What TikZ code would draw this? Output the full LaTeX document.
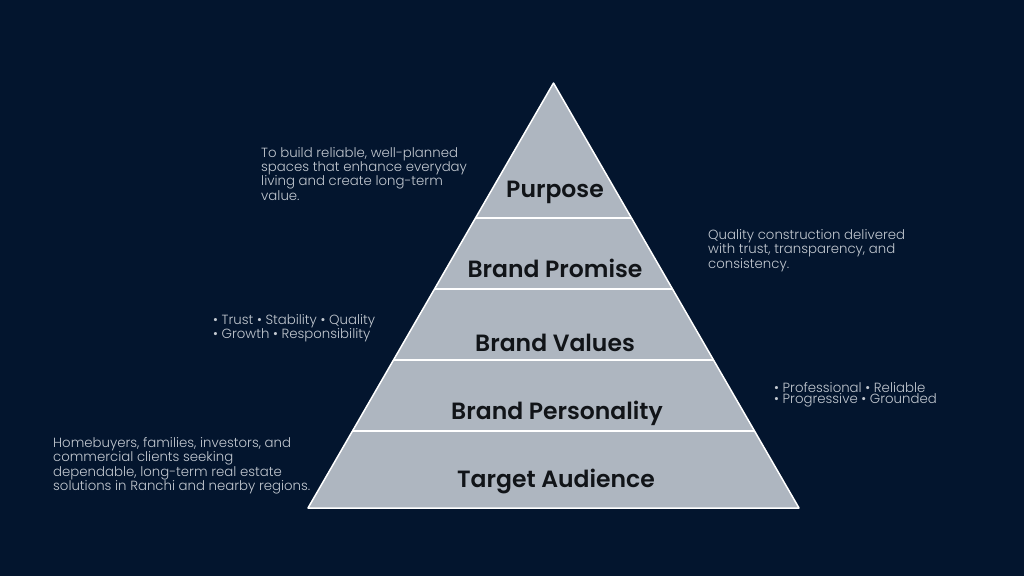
\documentclass[tikz,border=0pt]{standalone}
\usepackage{fontspec}
\setmainfont{Poppins}
\newfontfamily\layerfont{Poppins SemiBold}
\newfontfamily\notefont{Poppins Light}
\usetikzlibrary{calc}
\definecolor{navy}{HTML}{03152E}
\definecolor{slab}{HTML}{AEB6C0}
\definecolor{note}{HTML}{C3C9D1}
\definecolor{ink}{HTML}{111418}
\tikzset{
  layer/.style={text=ink,anchor=base,inner sep=0pt,font=\fontsize{23.5}{23.5}\selectfont\layerfont},
  desc/.style={text=note,align=left,anchor=north west,inner sep=0pt,font=\fontsize{13.3}{11.4}\selectfont\notefont}
}
\begin{document}
\begin{tikzpicture}[x=1pt,y=-1pt]
  \fill[navy] (0,0) rectangle (1024,576);
  \useasboundingbox (0,0) rectangle (1024,576);
  %% pyramid
  \coordinate (apex) at (553.5,83);
  \coordinate (bl) at (308,508);
  \coordinate (br) at (799,508);
  \filldraw[fill=slab,draw=white,line width=1.5pt,line join=round] (apex) -- (bl) -- (br) -- cycle;
  %% dividers
  \foreach \t in {0.3176,0.4847,0.6518,0.8188}
    \draw[white,line width=2pt] ($(apex)!\t!(bl)$) -- ($(apex)!\t!(br)$);
  %% layer names
  \node[layer] (purpose) at (555,197) {Purpose};
  \node[layer] (promise) at (555,277) {Brand Promise};
  \node[layer] (values) at (555,351) {Brand Values};
  \node[layer] (personality) at (557,419) {Brand Personality};
  \node[layer] (audience) at (556,487) {Target Audience};
  %% notes
  \node[desc] (purposenote) at (261,147) {To build reliable, well-planned\\spaces that enhance everyday\\living and create long-term\\value.};
  \node[desc] (promisenote) at (708,229) {Quality construction delivered\\with trust, transparency, and\\consistency.};
  \node[desc] (valuesnote) at (213,314) {• Trust • Stability • Quality\\• Growth • Responsibility};
  \node[desc] (personalitynote) at (774,382) {• Professional • Reliable\\• Progressive • Grounded};
  \node[desc] (audiencenote) at (53,437) {Homebuyers, families, investors, and\\commercial clients seeking\\dependable, long-term real estate\\solutions in Ranchi and nearby regions.};
\end{tikzpicture}
\end{document}
